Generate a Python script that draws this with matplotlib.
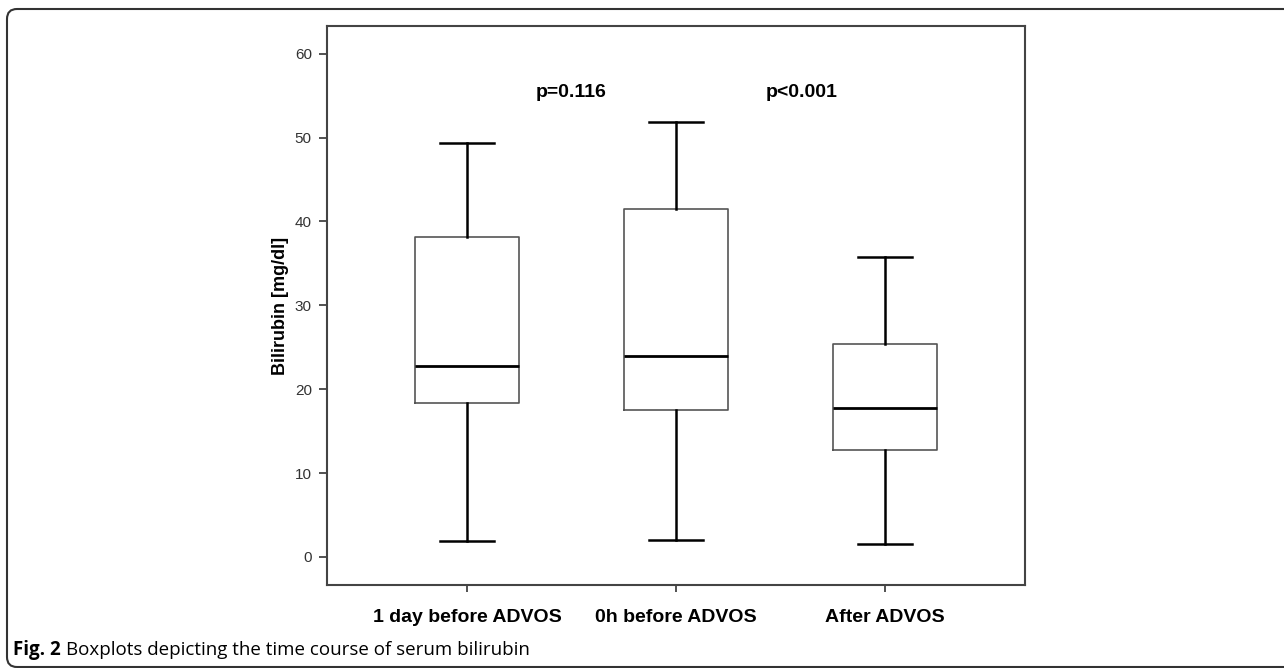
import matplotlib.pyplot as plt
from matplotlib.patches import FancyBboxPatch

# Werte
gruppen = ["1 day before ADVOS", "0h before ADVOS", "After ADVOS"]
whisk_lo = [1.9, 2.0, 1.5]
q1 = [18.3, 17.5, 12.8]
median = [22.8, 24.0, 17.8]
q3 = [38.1, 41.5, 25.4]
whisk_hi = [49.3, 51.8, 35.7]
p_texte = ["p=0.116", "p<0.001"]
p_x = [1.50, 2.60]
p_y = 55.4
yticks = [0, 10, 20, 30, 40, 50, 60]

plt.rcParams['font.family'] = ['Liberation Sans', 'DejaVu Sans']

fig = plt.figure(figsize=(12.84, 6.68), dpi=100)
ax = fig.add_axes([0.2547, 0.1243, 0.5436, 0.8368])

stats = []
for i in range(len(gruppen)):
    stats.append({"whislo": whisk_lo[i], "q1": q1[i], "med": median[i],
                  "q3": q3[i], "whishi": whisk_hi[i], "fliers": []})

ax.bxp(stats, positions=[1, 2, 3], widths=0.5, showfliers=False,
       boxprops=dict(color="#555555", linewidth=1.2),
       medianprops=dict(color="black", linewidth=2),
       whiskerprops=dict(color="black", linewidth=1.8),
       capprops=dict(color="black", linewidth=1.8),
       capwidths=0.26)

ax.set_xlim(0.33, 3.67)
ax.set_ylim(-3.34, 63.3)
ax.set_yticks(yticks)
ax.set_xticks([1, 2, 3])
ax.set_xticklabels(gruppen, fontsize=14, fontweight="bold")
ax.tick_params(axis="y", labelsize=11, length=6, width=1.2, colors="#333333", pad=5)
ax.tick_params(axis="x", length=5, width=1.2, colors="#333333", pad=12)
for lab in ax.get_xticklabels():
    lab.set_color("black")
ax.set_ylabel("Bilirubin [mg/dl]", fontsize=13, fontweight="bold", labelpad=4)
for s in ax.spines.values():
    s.set_color("#444444")
    s.set_linewidth(1.5)

for t, x in zip(p_texte, p_x):
    ax.text(x, p_y, t, fontsize=14, fontweight="bold", ha="center", va="center")

# Rahmen um die Abbildung (in Zoll)
rahmen = FancyBboxPatch((0.07, 0.01), 14, 6.59 - 0.01,
                        boxstyle="round,pad=0,rounding_size=0.1",
                        transform=fig.dpi_scale_trans, fill=False,
                        edgecolor="#333333", linewidth=1.5, clip_on=False)
fig.patches.append(rahmen)

fig.text(13 / 1284, 1 - 650 / 668, "Fig. 2", fontsize=13.5, fontweight="bold",
         family=["Open Sans", "DejaVu Sans"], va="center")
fig.text(66 / 1284, 1 - 650 / 668, "Boxplots depicting the time course of serum bilirubin",
         fontsize=13.5, family=["Open Sans", "DejaVu Sans"], va="center")

fig.savefig("out.png", dpi=100)
